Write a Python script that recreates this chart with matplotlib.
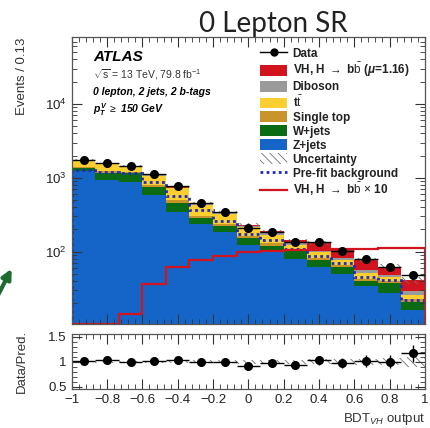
import numpy as np
import matplotlib
matplotlib.use("Agg")
import matplotlib.pyplot as plt
from matplotlib.patches import Patch, FancyArrowPatch
from matplotlib.lines import Line2D
from matplotlib.ticker import MultipleLocator, LogLocator, NullFormatter

plt.rcParams['font.family'] = ['Liberation Sans', 'DejaVu Sans']
plt.rcParams['mathtext.fontset'] = 'custom'
plt.rcParams['mathtext.rm'] = 'Liberation Sans'
plt.rcParams['mathtext.it'] = 'Liberation Sans:italic:bold'
plt.rcParams['mathtext.sf'] = 'Liberation Sans:italic'
plt.rcParams['mathtext.bf'] = 'Liberation Sans:bold'
plt.rcParams['hatch.linewidth'] = 0.6

# 15 bins of BDT_VH output
edges = np.linspace(-1, 1, 16)

# post-fit stack components (events per bin)
zjets   = [1250, 940, 890, 590, 347, 239, 182, 125, 101, 80, 62, 50, 34, 28, 16]
wjets   = [95, 240, 270, 172, 112, 46, 38, 27, 19, 21, 16, 13, 6, 10, 5]
stop    = [40, 50, 40, 50, 40, 20, 15, 12, 10, 8, 5, 4, 3, 2, 2]
ttbar   = [330, 290, 220, 260, 220, 130, 90, 52, 40, 15, 15, 10, 8, 5, 3]
diboson = [30, 25, 25, 25, 18, 14, 12, 8, 8, 8, 6, 5, 5, 4, 3]
vh      = [3, 5, 5, 4, 6, 6, 7, 8, 10, 12, 27, 24, 22, 14, 12]

data    = [1770, 1590, 1435, 1110, 765, 450, 344, 211, 182, 135, 135, 103, 79, 63, 48]
prefit  = [1260, 1200, 1180, 875, 572, 365, 258, 175, 142, 110, 88, 70, 46, 42, 22]
vh_x10  = [10.6, 10.6, 14.5, 36, 63, 78, 88, 98, 103, 106, 107, 110, 110, 112, 113]
unc_frac = [0.02, 0.02, 0.02, 0.02, 0.025, 0.025, 0.03, 0.04, 0.04, 0.04, 0.05, 0.05, 0.06, 0.07, 0.1]

components = [
    ("Z+jets", zjets, "#1565c8"),
    ("W+jets", wjets, "#0b6b14"),
    ("Single top", stop, "#c9952a"),
    (r"t$\bar{\rm t}$", ttbar, "#fccf30"),
    ("Diboson", diboson, "#9a9a9a"),
    (r"VH, H $\rightarrow$ b$\bar{\rm b}$ ($\mu$=1.16)", vh, "#d2141e"),
]

fig = plt.figure(figsize=(4.30, 4.28), dpi=100)
ax = fig.add_axes([0.167, 0.243, 0.821, 0.670])
rax = fig.add_axes([0.167, 0.091, 0.821, 0.128], sharex=ax)

centers = 0.5 * (edges[1:] + edges[:-1])
halfw = 0.5 * (edges[1] - edges[0])
data = np.array(data, float)

bottom = np.zeros(15)
for name, vals, col in components:
    top = bottom + np.array(vals, float)
    base = bottom.copy()
    base[base == 0] = 1.0
    ax.stairs(top, edges, baseline=base, fill=True, color=col, linewidth=0)
    bottom = top
total = bottom
unc = np.array(unc_frac)

ax.stairs(total * (1 + unc), edges, baseline=total * (1 - unc), fill=True,
          facecolor='none', edgecolor='#707070', hatch='\\\\\\\\', linewidth=0)
ax.stairs(prefit, edges, color='#1f2bb8', linestyle=(0, (1, 1.2)), linewidth=2.0)
ax.stairs(vh_x10, edges, color='#d2141e', linewidth=1.6)
ax.errorbar(centers, data, yerr=np.sqrt(data), xerr=halfw, fmt='o', color='black',
            markersize=5.5, elinewidth=1, capsize=0)

ax.set_yscale('log')
ax.set_ylim(10.5, 8e4)
ax.set_xlim(-1, 1)

# ratio panel
rax.stairs(1 + unc, edges, baseline=1 - unc, fill=True, facecolor='none',
           edgecolor='#707070', hatch='\\\\\\\\', linewidth=0)
ratio = data / total
rax.errorbar(centers, ratio, yerr=np.sqrt(data) / total, xerr=halfw, fmt='o',
             color='black', markersize=5.5, elinewidth=1, capsize=0)
rax.set_ylim(0.45, 1.55)
rax.yaxis.set_minor_locator(MultipleLocator(0.1))
rax.set_yticks([0.5, 1, 1.5])
rax.set_yticklabels(["0.5", "1", "1.5"])

for a in (ax, rax):
    a.tick_params(which='both', direction='in', top=True, right=True, labelsize=9.5,
                  color='#333333', labelcolor='#222222')
    a.tick_params(which='major', length=7)
    a.tick_params(which='minor', length=3.5)
    a.xaxis.set_major_locator(MultipleLocator(0.2))
    a.xaxis.set_minor_locator(MultipleLocator(0.04))
    for s in a.spines.values():
        s.set_color('#555555')
        s.set_linewidth(0.9)
ax.yaxis.set_minor_locator(LogLocator(base=10, subs=np.arange(2, 10)))
ax.yaxis.set_minor_formatter(NullFormatter())
ax.tick_params(labelbottom=False)
rax.set_xticks(np.arange(-1, 1.01, 0.2))
rax.set_xticklabels(["\u22121", "\u22120.8", "\u22120.6", "\u22120.4", "\u22120.2",
                     "0", "0.2", "0.4", "0.6", "0.8", "1"])
rax.set_xlim(-1, 1)

ax.set_ylabel("Events / 0.13", fontsize=9.5, loc='top', color='#333333')
ax.yaxis.set_label_coords(-0.125, 1.0)
rax.set_ylabel("Data/Pred.", fontsize=9.5, color='#333333')
rax.yaxis.set_label_coords(-0.125, 0.5)
rax.set_xlabel(r"BDT$_{\mathsf{VH}}$ output", fontsize=9.5, loc='right', color='#333333')

# labels
ax.text(0.06, 0.93, "ATLAS", transform=ax.transAxes, fontsize=11, fontweight='bold',
        style='italic', va='center')
ax.text(0.06, 0.868, r"$\sqrt{\rm s}$ = 13 TeV, 79.8 fb$^{-1}$", transform=ax.transAxes,
        fontsize=7.5, va='center', color='#333333')
ax.text(0.06, 0.808, "0 lepton, 2 jets, 2 b-tags", transform=ax.transAxes, fontsize=7.5,
        fontweight='bold', style='italic', va='center')
ax.text(0.06, 0.746, r"$p_{T}^{V}$ $\geq$ 150 GeV", transform=ax.transAxes, fontsize=7.5,
        fontweight='bold', style='italic', va='center')

handles = [Line2D([], [], color='black', marker='o', markersize=5, linewidth=1)]
labels = ["Data"]
for name, vals, col in components[::-1]:
    handles.append(Patch(facecolor=col, edgecolor='none'))
    labels.append(name)
handles.append(Patch(facecolor='white', edgecolor='#707070', hatch='\\\\\\\\', linewidth=0))
labels.append("Uncertainty")
handles.append(Line2D([], [], color='#1f2bb8', linestyle=(0, (1, 1.2)), linewidth=2.0))
labels.append("Pre-fit background")
handles.append(Line2D([], [], color='#d2141e', linewidth=1.6))
labels.append(r"VH, H $\rightarrow$ b$\bar{\rm b}$ $\times$ 10")
leg = ax.legend(handles, labels, loc='upper left', bbox_to_anchor=(0.52, 0.982),
                frameon=False, fontsize=8.5, labelspacing=0.12, handlelength=2.3,
                handleheight=1.05, handletextpad=0.45, borderaxespad=0)
for t in leg.get_texts():
    t.set_fontweight('bold')
    t.set_color('#222222')

fig.text(0.635, 0.925, "0 Lepton SR", fontsize=20, family=['Lato', 'DejaVu Sans'],
         ha='center', va='baseline', color='#222222')

arrow = FancyArrowPatch((-0.01, 0.30), (0.03, 0.378), transform=fig.transFigure,
                        arrowstyle='-|>', mutation_scale=14, color='#1e6b30', linewidth=3)
fig.add_artist(arrow)

fig.savefig("out.png", dpi=100)
